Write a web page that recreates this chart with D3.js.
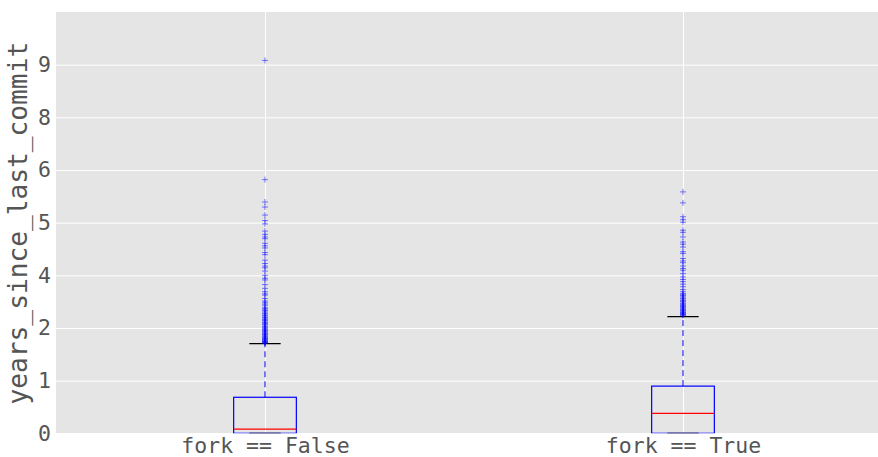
<!DOCTYPE html>
<html>
<head>
<meta charset="utf-8">
<script src="https://cdn.jsdelivr.net/npm/d3@7"></script>
<style>
  html, body { margin: 0; padding: 0; background: #ffffff; }
  svg { display: block; }
  text { font-family: "DejaVu Sans Mono", monospace; fill: #555555; }
</style>
</head>
<body>
<script>
// Categories and box statistics (years since last commit)
const categories = ["fork == False", "fork == True"];
const q1 = [0, 0];
const medians = [0.10, 0.474];
const q3 = [0.855, 1.12];
const whiskerLow = [0, 0];
const whiskerHigh = [2.13, 2.77];

// Points beyond the upper whisker, one list per category
const outliersFalse = [8.85, 6.02, 5.49, 5.37, 5.18, 5.05, 4.97, 4.80, 4.72, 4.66,
  4.62, 4.51, 4.45, 4.40, 4.29, 4.24, 4.11, 4.03, 3.97, 3.93, 3.85, 3.75, 3.68,
  3.64, 3.53, 3.44, 3.36, 3.31, 3.28, 3.20, 3.14, 3.11, 3.07, 3.04, 2.99, 2.96,
  2.93, 2.91, 2.88, 2.85, 2.83, 2.80, 2.78, 2.75, 2.73, 2.70, 2.68, 2.66, 2.63,
  2.61, 2.59, 2.57, 2.54, 2.52, 2.50, 2.48, 2.46, 2.44, 2.42, 2.40, 2.38, 2.36,
  2.35, 2.33, 2.31, 2.29, 2.28, 2.26, 2.25, 2.23, 2.22, 2.20, 2.19, 2.18, 2.17,
  2.16, 2.15, 2.14];
const outliersTrue = [5.73, 5.47, 5.14, 5.07, 5.01, 4.82, 4.77, 4.66, 4.54, 4.49,
  4.42, 4.31, 4.27, 4.15, 4.09, 4.05, 3.97, 3.91, 3.87, 3.79, 3.71, 3.65, 3.60,
  3.54, 3.48, 3.41, 3.36, 3.32, 3.29, 3.27, 3.24, 3.21, 3.19, 3.16, 3.14, 3.12,
  3.09, 3.07, 3.05, 3.03, 3.01, 2.99, 2.97, 2.95, 2.93, 2.92, 2.90, 2.88, 2.87,
  2.85, 2.84, 2.82, 2.81, 2.80];

// Y ticks sit every 1.25 and are printed as rounded whole numbers
const yTickValues = [0, 1.25, 2.5, 3.75, 5, 6.25, 7.5, 8.75];
const yTickLabels = ["0", "1", "2", "4", "5", "6", "8", "9"];
const yLabel = "years_since_last_commit";

const W = 878, H = 457;
const plot = { left: 56, top: 12, right: 892, bottom: 433.3 };

const svg = d3.select("body").append("svg")
  .attr("width", W).attr("height", H);

const x = d3.scaleLinear().domain([0.5, 2.5]).range([plot.left, plot.right]);
const y = d3.scaleLinear().domain([0, 10]).range([plot.bottom, plot.top]);

svg.append("defs").append("clipPath").attr("id", "plotclip")
  .append("rect")
  .attr("x", plot.left).attr("y", plot.top)
  .attr("width", plot.right - plot.left).attr("height", plot.bottom - plot.top);

// Panel background
svg.append("rect")
  .attr("x", plot.left).attr("y", plot.top)
  .attr("width", plot.right - plot.left).attr("height", plot.bottom - plot.top)
  .attr("fill", "#e5e5e5");

const positions = categories.map((c, i) => i + 1);

// Grid lines drawn through the axis generators
const gy = svg.append("g")
  .attr("transform", `translate(${plot.left},0)`)
  .call(d3.axisLeft(y).tickValues(yTickValues)
    .tickSize(-(plot.right - plot.left)).tickFormat(""));
gy.select(".domain").remove();
gy.selectAll(".tick line").attr("stroke", "#ffffff").attr("stroke-width", 1);

const gx = svg.append("g")
  .attr("transform", `translate(0,${plot.bottom})`)
  .call(d3.axisBottom(x).tickValues(positions)
    .tickSize(-(plot.bottom - plot.top)).tickFormat(""));
gx.select(".domain").remove();
gx.selectAll(".tick line").attr("stroke", "#ffffff").attr("stroke-width", 1);

// Tick labels
const gyl = svg.append("g")
  .attr("transform", `translate(${plot.left - 5},0)`)
  .call(d3.axisLeft(y).tickValues(yTickValues).tickSize(0)
    .tickFormat((d, i) => yTickLabels[i]));
gyl.select(".domain").remove();
gyl.selectAll(".tick text")
  .attr("x", 0)
  .style("font-family", '"DejaVu Sans Mono", monospace')
  .style("font-size", "21.5px").attr("fill", "#555555");

const gxl = svg.append("g")
  .attr("transform", `translate(0,${plot.bottom})`)
  .call(d3.axisBottom(x).tickValues(positions).tickSize(0)
    .tickFormat((d, i) => categories[i]));
gxl.select(".domain").remove();
gxl.selectAll(".tick text")
  .attr("y", 0).attr("dy", "19.5px")
  .style("font-family", '"DejaVu Sans Mono", monospace')
  .style("font-size", "21.5px").attr("fill", "#555555");

// Y axis title
svg.append("text")
  .attr("transform", `translate(27,${(plot.top + plot.bottom) / 2 + 0.5}) rotate(-90)`)
  .attr("text-anchor", "middle")
  .style("font-size", "26.2px")
  .text(yLabel);

// Boxes
const boxHalf = 0.075, capHalf = 0.0375;
const marks = svg.append("g").attr("clip-path", "url(#plotclip)");
const stats = categories.map((c, i) => ({
  pos: positions[i], q1: q1[i], med: medians[i], q3: q3[i],
  lo: whiskerLow[i], hi: whiskerHigh[i],
  out: i === 0 ? outliersFalse : outliersTrue
}));

stats.forEach(s => {
  const g = marks.append("g");
  // whiskers
  g.append("line")
    .attr("x1", x(s.pos)).attr("x2", x(s.pos))
    .attr("y1", y(s.q3)).attr("y2", y(s.hi))
    .attr("stroke", "#0000ff").attr("stroke-width", 1)
    .attr("stroke-dasharray", "6,4");
  g.append("line")
    .attr("x1", x(s.pos)).attr("x2", x(s.pos))
    .attr("y1", y(s.q1)).attr("y2", y(s.lo))
    .attr("stroke", "#0000ff").attr("stroke-width", 1)
    .attr("stroke-dasharray", "6,4");
  // box
  g.append("rect")
    .attr("x", x(s.pos - boxHalf)).attr("y", y(s.q3))
    .attr("width", x(s.pos + boxHalf) - x(s.pos - boxHalf))
    .attr("height", y(s.q1) - y(s.q3))
    .attr("fill", "none").attr("stroke", "#0000ff").attr("stroke-width", 1.2);
  // median
  g.append("line")
    .attr("x1", x(s.pos - boxHalf)).attr("x2", x(s.pos + boxHalf))
    .attr("y1", y(s.med)).attr("y2", y(s.med))
    .attr("stroke", "#ff0000").attr("stroke-width", 1.2);
  // caps
  [s.lo, s.hi].forEach(v => {
    g.append("line")
      .attr("x1", x(s.pos - capHalf)).attr("x2", x(s.pos + capHalf))
      .attr("y1", y(v)).attr("y2", y(v))
      .attr("stroke", "#000000").attr("stroke-width", 1.2);
  });
  // fliers as "+" markers
  const arm = 3;
  g.selectAll("path.flier").data(s.out).join("path")
    .attr("class", "flier")
    .attr("d", v => {
      const cx = x(s.pos), cy = y(v);
      return `M${cx - arm},${cy}H${cx + arm}M${cx},${cy - arm}V${cy + arm}`;
    })
    .attr("stroke", "#0000ff").attr("stroke-opacity", 0.5)
    .attr("stroke-width", 1).attr("fill", "none");
});
</script>
</body>
</html>
